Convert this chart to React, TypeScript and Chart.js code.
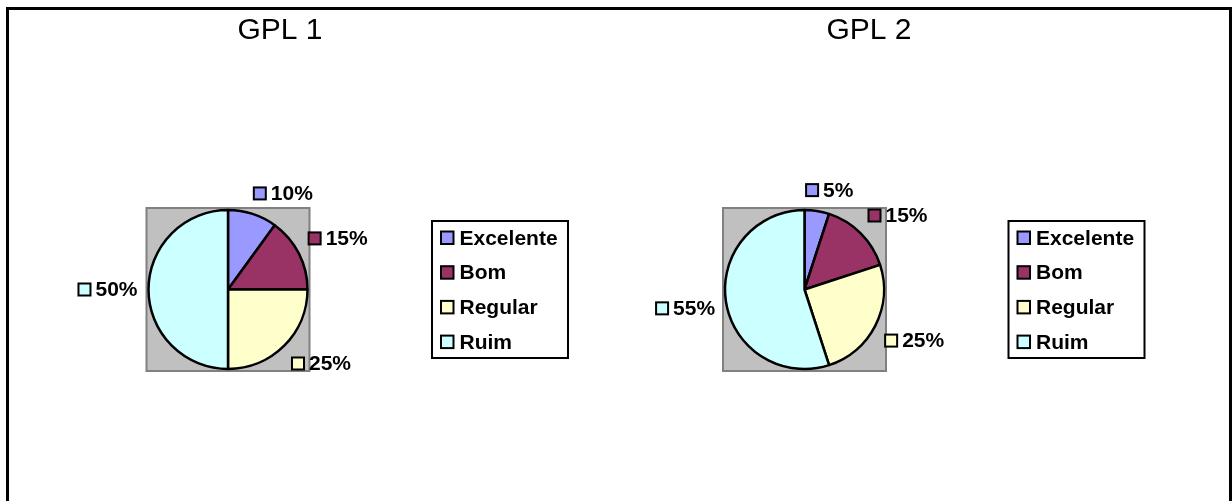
import React, { useEffect, useRef } from "react";
import { Chart, registerables } from "chart.js";

Chart.register(...registerables);

const categories = ["Excelente", "Bom", "Regular", "Ruim"];
const gpl1Values = [10, 15, 25, 50];
const gpl2Values = [5, 15, 25, 55];
const chartTitles = ["GPL 1", "GPL 2"];
const sliceColors = ["#9999FF", "#993366", "#FFFFCC", "#CCFFFF"];

const FONT = '"Liberation Sans", Arial, Helvetica, sans-serif';
const W = 616;
const H = 501;

function clamp1(v: number) {
  return Math.max(-1, Math.min(1, v));
}

function makeDecor(title: string, titleX: number) {
  return {
    id: "decor",
    beforeDatasetsDraw(chart: any) {
      const ctx = chart.ctx;
      const arc = chart.getDatasetMeta(0).data[0];
      const cx = arc.x;
      const cy = arc.y;
      const half = 81.5;
      ctx.save();
      ctx.fillStyle = "#C0C0C0";
      ctx.fillRect(cx - half, cy - half, half * 2, half * 2);
      ctx.strokeStyle = "#808080";
      ctx.lineWidth = 2;
      ctx.strokeRect(cx - half, cy - half, half * 2, half * 2);
      ctx.restore();
    },
    afterDatasetsDraw(chart: any) {
      const ctx = chart.ctx;
      const ds = chart.data.datasets[0];
      const values: number[] = ds.data;
      const total = values.reduce((a, b) => a + b, 0);
      const meta = chart.getDatasetMeta(0);
      ctx.save();
      ctx.font = `bold 21px ${FONT}`;
      ctx.textBaseline = "middle";
      ctx.textAlign = "left";
      meta.data.forEach((el: any, i: number) => {
        const a = (el.startAngle + el.endAngle) / 2;
        const R = el.outerRadius + 11;
        const ax = el.x + R * Math.cos(a);
        const ay = el.y + R * Math.sin(a);
        const txt = `${Math.round((values[i] / total) * 100)}%`;
        const tw = ctx.measureText(txt).width;
        const mk = 12;
        const gap = 5;
        const bw = mk + gap + tw;
        const bh = 20;
        const bx = ax + (bw / 2) * clamp1(3 * Math.cos(a)) - bw / 2;
        const by = ay + (bh / 2) * clamp1(3 * Math.sin(a));
        ctx.fillStyle = sliceColors[i];
        ctx.fillRect(bx, by - mk / 2, mk, mk);
        ctx.strokeStyle = "#000";
        ctx.lineWidth = 2;
        ctx.strokeRect(bx, by - mk / 2, mk, mk);
        ctx.fillStyle = "#000";
        ctx.fillText(txt, bx + mk + gap, by + 1);
      });
      ctx.restore();
    },
    afterDraw(chart: any) {
      const ctx = chart.ctx;
      const arc = chart.getDatasetMeta(0).data[0];
      const cx = arc.x;
      const cy = arc.y;
      ctx.save();
      // title
      ctx.font = `30px ${FONT}`;
      ctx.fillStyle = "#000";
      ctx.textAlign = "center";
      ctx.textBaseline = "middle";
      ctx.fillText(title, titleX, 31);
      // legend
      const lx = cx + 204;
      const ly = cy - 68.5;
      const lw = 136;
      const lh = 137;
      ctx.fillStyle = "#FFFFFF";
      ctx.fillRect(lx, ly, lw, lh);
      ctx.strokeStyle = "#000";
      ctx.lineWidth = 2;
      ctx.strokeRect(lx, ly, lw, lh);
      ctx.font = `bold 21px ${FONT}`;
      ctx.textAlign = "left";
      categories.forEach((c, i) => {
        const iy = ly + 17 + i * 34.7;
        ctx.fillStyle = sliceColors[i];
        ctx.fillRect(lx + 9, iy - 6.5, 12.5, 12.5);
        ctx.strokeStyle = "#000";
        ctx.lineWidth = 2;
        ctx.strokeRect(lx + 9, iy - 6.5, 12.5, 12.5);
        ctx.fillStyle = "#000";
        ctx.fillText(c, lx + 27.5, iy + 1);
      });
      ctx.restore();
    },
  };
}

function PieChart(props: {
  values: number[];
  title: string;
  titleX: number;
  centerX: number;
  centerY: number;
  left: number;
}) {
  const ref = useRef<HTMLCanvasElement | null>(null);
  useEffect(() => {
    if (!ref.current) return;
    const half = 81;
    const chart = new Chart(ref.current, {
      type: "pie",
      data: {
        labels: categories,
        datasets: [
          {
            data: props.values,
            backgroundColor: sliceColors,
            borderColor: "#000000",
            borderWidth: 2.5,
            radius: 79.5,
          } as any,
        ],
      },
      options: {
        responsive: false,
        animation: false,
        devicePixelRatio: 1,
        events: [],
        layout: {
          padding: {
            left: props.centerX - half,
            right: W - (props.centerX + half),
            top: props.centerY - half,
            bottom: H - (props.centerY + half),
          },
        },
        plugins: {
          legend: { display: false },
          title: { display: false },
          tooltip: { enabled: false },
        },
      },
      plugins: [makeDecor(props.title, props.titleX)],
    });
    return () => chart.destroy();
  }, []);
  return (
    <canvas
      ref={ref}
      width={W}
      height={H}
      style={{ position: "absolute", left: props.left, top: 0, width: W, height: H }}
    />
  );
}

export default function App() {
  return (
    <div
      style={{
        position: "fixed",
        left: 0,
        top: 0,
        width: 1232,
        height: 501,
        overflow: "hidden",
        background: "#FFFFFF",
      }}
    >
      <div
        style={{
          position: "absolute",
          left: 6,
          top: 7,
          width: 1226,
          height: 600,
          border: "3px solid #000",
          boxSizing: "border-box",
        }}
      />
      <PieChart values={gpl1Values} title={chartTitles[0]} titleX={280} centerX={228} centerY={289.5} left={0} />
      <PieChart values={gpl2Values} title={chartTitles[1]} titleX={869 - 616} centerX={804.5 - 616} centerY={289.5} left={616} />
    </div>
  );
}
